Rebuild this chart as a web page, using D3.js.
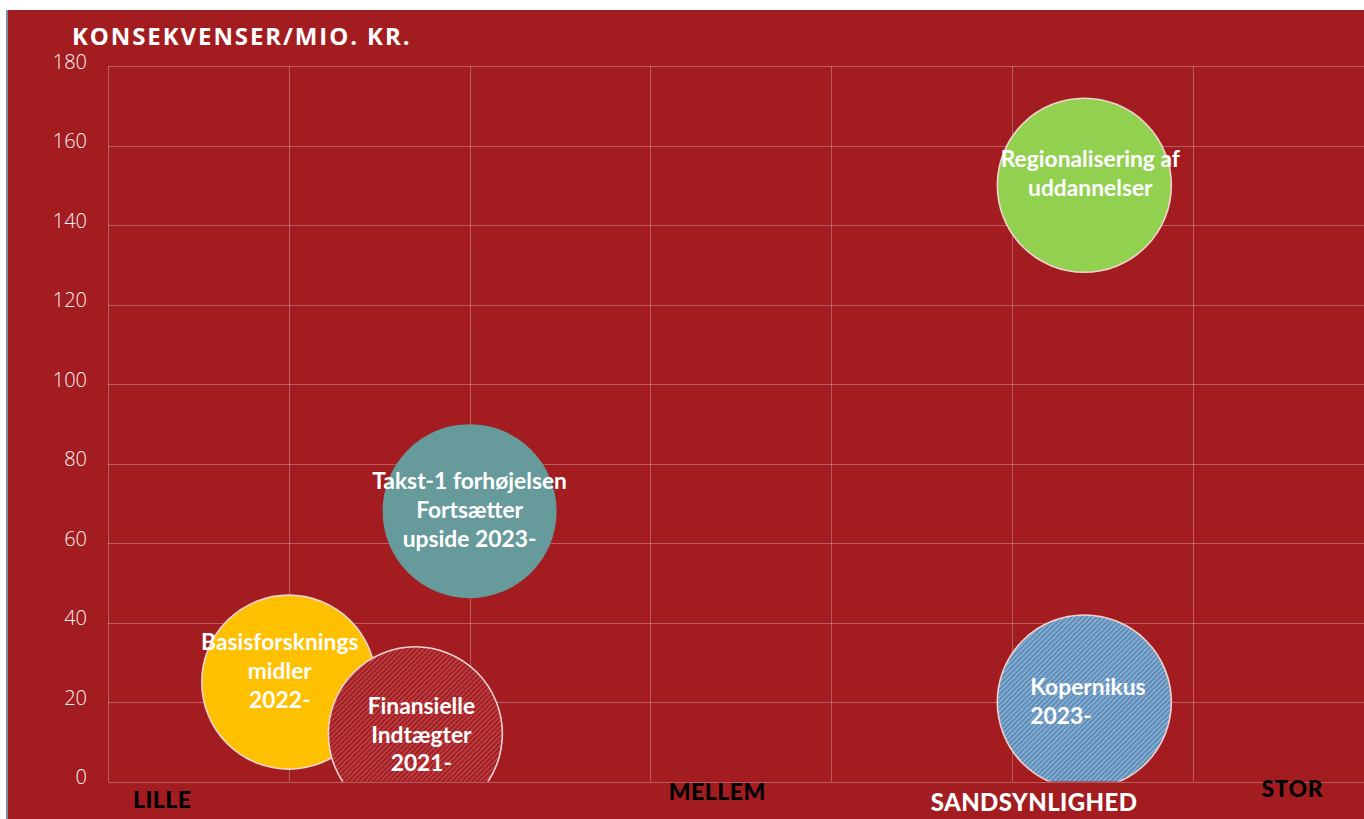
<!DOCTYPE html>
<html>
<head>
<meta charset="utf-8">
<script src="https://cdn.jsdelivr.net/npm/d3@7"></script>
<style>
  body { margin: 0; background: #fff; }
  svg { display: block; }
</style>
</head>
<body>
<div id="chart"></div>
<script>
// bubble data (x = sandsynlighed, y = konsekvens i mio. kr.)
const names = [
  ["Basisforsknings", "midler", "2022-"],
  ["Finansielle", "Indtægter", "2021-"],
  ["Takst-1 forhøjelsen", "Fortsætter", "upside 2023-"],
  ["Regionalisering af", "uddannelser"],
  ["Kopernikus", "2023-"]
];
const xValues = [1, 1.7, 2, 5.4, 5.4];
const yValues = [25, 12, 68, 150, 20];
const sizes = [10, 10, 10, 10, 10];
const fills = ["#FFC000", "url(#hatchRed)", "#679A9B", "#92D050", "url(#hatchBlue)"];
const yTicks = [0, 20, 40, 60, 80, 100, 120, 140, 160, 180];
const xGrid = [0, 1, 2, 3, 4, 5, 6, 7];
const xCategoryLabels = ["LILLE", "MELLEM", "STOR"];
const xCategoryPos = [0.3, 3.37, 6.55];

// label placement inside bubbles (layout only)
const labelAnchor = ["middle", "middle", "middle", "middle", "start"];
const labelDx = [-9, 6, 0, 6, -54];
const labelDy = [-32, -20, -22, -18, -7];

const width = 1364, height = 819;
const bg = "#A21C20";

const svg = d3.select("#chart").append("svg")
  .attr("width", width)
  .attr("height", height);

// red panel with the thin border on the left
svg.append("rect").attr("x", 7).attr("y", 10).attr("width", width - 7).attr("height", height - 10).attr("fill", bg);
svg.append("rect").attr("x", 6).attr("y", 10).attr("width", 2).attr("height", height - 10).attr("fill", "#7A8CA6");

const defs = svg.append("defs");

function hatch(id, base, stripe) {
  let p = defs.append("pattern")
    .attr("id", id)
    .attr("patternUnits", "userSpaceOnUse")
    .attr("width", 3.5).attr("height", 3.5)
    .attr("patternTransform", "rotate(45)");
  p.append("rect").attr("width", 3.5).attr("height", 3.5).attr("fill", base);
  p.append("rect").attr("width", 1.5).attr("height", 3.5).attr("fill", stripe);
}
hatch("hatchRed", "#C63A3E", "#8C1D21");
hatch("hatchBlue", "#82ADD4", "#5884AD");

const x = d3.scaleLinear().domain([0, 7]).range([108, 108 + 7 * 180.8]);
const y = d3.scaleLinear().domain([0, 180]).range([781.5, 66]);
const r = d3.scaleSqrt().domain([0, 10]).range([0, 87]);

defs.append("clipPath").attr("id", "plotClip")
  .append("rect")
  .attr("x", x(0)).attr("y", y(180) - 1)
  .attr("width", x(7) - x(0)).attr("height", y(0) - y(180) + 1);

// gridlines
const grid = svg.append("g").attr("stroke", "rgba(255,255,255,0.28)").attr("stroke-width", 1);
grid.selectAll("line.h").data(yTicks).enter().append("line")
  .attr("class", "h")
  .attr("x1", x(0)).attr("x2", width)
  .attr("y1", d => Math.round(y(d)) + 0.5).attr("y2", d => Math.round(y(d)) + 0.5);
grid.selectAll("line.v").data(xGrid).enter().append("line")
  .attr("class", "v")
  .attr("x1", d => Math.round(x(d)) + 0.5).attr("x2", d => Math.round(x(d)) + 0.5)
  .attr("y1", y(180)).attr("y2", y(0));

// y axis labels
const yAxis = d3.axisLeft(y).tickValues(yTicks).tickSize(0).tickPadding(0);
svg.append("g")
  .attr("transform", "translate(87,-4)")
  .call(yAxis)
  .call(g => g.select(".domain").remove())
  .selectAll("text")
  .attr("fill", "#FBF3F3")
  .style("font-family", "'Open Sans', sans-serif")
  .style("font-weight", 300)
  .style("font-size", "20px");

// bubbles
const bubbles = names.map((n, i) => ({ lines: n, x: xValues[i], y: yValues[i], size: sizes[i], fill: fills[i], i: i }));

const plot = svg.append("g").attr("clip-path", "url(#plotClip)");
plot.selectAll("circle").data(bubbles).enter().append("circle")
  .attr("cx", d => x(d.x))
  .attr("cy", d => y(d.y))
  .attr("r", d => r(d.size))
  .attr("fill", d => d.fill)
  .attr("stroke", d => d.i === 2 ? "none" : "#F0D3D0")
  .attr("stroke-width", 1.6);

const labels = svg.append("g")
  .style("font-family", "Lato, sans-serif")
  .style("font-weight", 700)
  .style("font-size", "22.8px")
  .attr("fill", "#fff");

bubbles.forEach(d => {
  let t = labels.append("text")
    .attr("text-anchor", labelAnchor[d.i])
    .attr("x", x(d.x) + labelDx[d.i])
    .attr("y", y(d.y) + labelDy[d.i]);
  d.lines.forEach((line, k) => {
    t.append("tspan")
      .attr("x", x(d.x) + labelDx[d.i])
      .attr("dy", k === 0 ? 0 : 28.8)
      .text(line);
  });
});

// title
svg.append("text")
  .attr("x", 72).attr("y", 45)
  .attr("fill", "#fff")
  .style("font-family", "'Open Sans', sans-serif")
  .style("font-weight", 700)
  .style("font-size", "24px")
  .style("letter-spacing", "1.9px")
  .text("KONSEKVENSER/MIO. KR.");

// category labels along the bottom
svg.selectAll("text.cat").data(xCategoryLabels).enter().append("text")
  .attr("class", "cat")
  .attr("x", (d, i) => x(xCategoryPos[i]))
  .attr("y", (d, i) => [808, 800, 797][i])
  .attr("text-anchor", "middle")
  .attr("fill", "#000")
  .style("font-family", "Lato, sans-serif")
  .style("font-weight", 900)
  .style("font-size", "23px")
  .style("letter-spacing", "0.5px")
  .text(d => d);

svg.append("text")
  .attr("x", (930 + 1138) / 2).attr("y", 811)
  .attr("text-anchor", "middle")
  .attr("fill", "#fff")
  .style("font-family", "Lato, sans-serif")
  .style("font-weight", 900)
  .style("font-size", "24px")
  .style("letter-spacing", "0.4px")
  .text("SANDSYNLIGHED");
</script>
</body>
</html>
